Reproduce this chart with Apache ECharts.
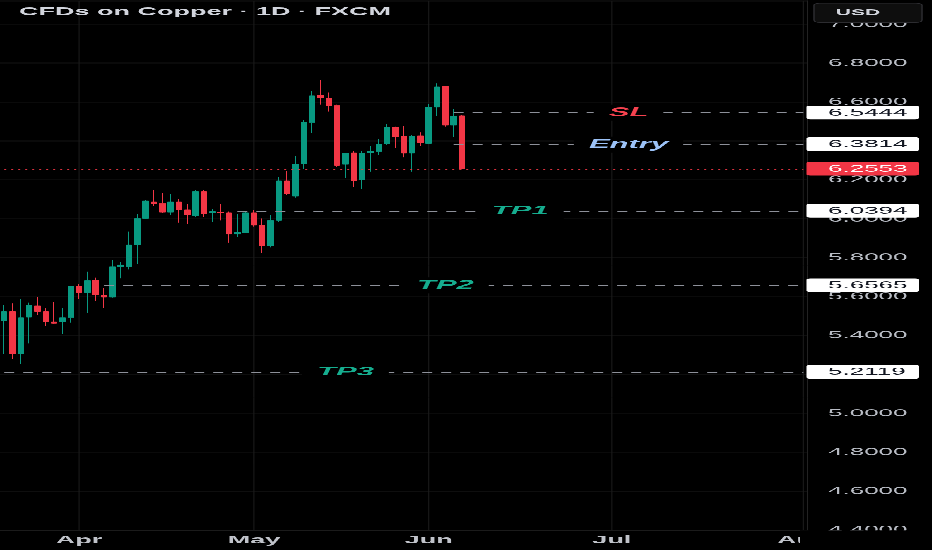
<!DOCTYPE html>
<html>
<head>
<meta charset="utf-8">
<script src="https://cdn.jsdelivr.net/npm/echarts/dist/echarts.min.js"></script>
<style>
html,body{margin:0;padding:0;background:#000;overflow:hidden;width:932px;height:550px}
#wrap{width:932px;height:550px;overflow:hidden;position:relative;background:#000}
#chart{width:932px;height:1402px;transform-origin:0 0}
</style>
</head>
<body>
<div id="wrap"><div id="chart"></div></div>
<script>
// ---- data ----
const opens  = [5.476,5.522,5.305,5.493,5.553,5.522,5.470,5.470,5.491,5.654,
                5.620,5.685,5.608,5.596,5.753,5.753,5.865,6.002,6.087,6.079,
                6.033,6.087,6.045,6.015,6.139,6.028,6.034,6.031,5.921,5.928,
                6.031,5.967,5.860,5.990,6.194,6.116,6.281,6.493,6.634,6.619,
                6.583,6.279,6.339,6.199,6.337,6.344,6.384,6.470,6.425,6.336,
                6.426,6.387,6.572,6.680,6.481,6.529];
const closes = [5.522,5.305,5.491,5.556,5.522,5.470,5.462,5.491,5.654,5.620,
                5.681,5.608,5.596,5.753,5.762,5.865,6.002,6.091,6.075,6.033,
                6.087,6.045,6.019,6.139,6.024,6.036,6.028,5.921,5.930,6.031,
                5.967,5.860,5.990,6.194,6.127,6.279,6.495,6.632,6.620,6.579,
                6.274,6.336,6.194,6.336,6.346,6.384,6.470,6.421,6.336,6.425,
                6.390,6.572,6.678,6.481,6.528,6.2553];
const lows   = [5.305,5.277,5.252,5.359,5.505,5.448,5.459,5.407,5.465,5.587,
                5.517,5.577,5.542,5.594,5.694,5.740,5.767,5.997,6.065,6.028,
                6.019,5.979,5.971,6.010,6.010,5.984,5.990,5.876,5.907,5.925,
                5.959,5.822,5.853,5.984,6.122,6.108,6.255,6.442,6.586,6.550,
                6.267,6.207,6.164,6.152,6.241,6.329,6.380,6.365,6.315,6.241,
                6.372,6.384,6.528,6.473,6.421,6.252];
const highs  = [5.556,5.565,5.587,5.568,5.596,5.539,5.570,5.542,5.656,5.663,
                5.727,5.697,5.642,5.788,5.779,5.933,6.024,6.096,6.147,6.130,
                6.127,6.100,6.074,6.147,6.147,6.048,6.075,6.036,6.024,6.036,
                6.045,6.002,6.019,6.216,6.245,6.322,6.507,6.658,6.713,6.649,
                6.586,6.339,6.346,6.349,6.373,6.408,6.485,6.473,6.476,6.430,
                6.444,6.588,6.696,6.683,6.562,6.533];

const barCount      = 97;                       // trading-day slots shown on the time axis
const monthLabels   = ['Apr','May','Jun','Jul','Aug'];
const monthStartBar = [9, 30, 51, 73, 96];

const levelNames    = ['SL','Entry','TP1','TP2','TP3'];
const levelValues   = [6.5444, 6.3814, 6.0394, 5.6565, 5.2119];
const levelStartBar = [54, 54, 28, 12, 0];
const levelLabelBar = [75, 75, 62, 53, 41];
const levelColors   = ['#f5424f','#9cc2f7','#16ad8f','#16ad8f','#16ad8f'];

const lastPrice = closes[closes.length - 1];
const yTickValues = [4.4,4.6,4.8,5.0,5.2,5.4,5.6,5.8,6.0,6.2,6.4,6.6,6.8,7.0];

// ---- layout (page is drawn tall then squeezed vertically to mimic the reference) ----
const H = 1402, K = H / 550;
const el = document.getElementById('chart');
el.style.height = H + 'px';
el.style.transform = 'scaleY(' + (1 / K) + ')';
const FONT = "'Liberation Sans', Arial, sans-serif";

const categories = Array.from({length: barCount}, (_, i) => String(i));
const candleData = opens.map((o, i) => [o, closes[i], lows[i], highs[i]]);

const levelLines = levelValues.map((v, i) => {
  const ls = {type: [10, 9], color: '#8d9099', width: 1.2 * K, opacity: 1};
  return [
    {coord: [levelStartBar[i], v], lineStyle: ls, label: {show: false}},
    {coord: [barCount - 1, v], lineStyle: ls, label: {show: false}}
  ];
});
const priceLs = {type: [2, 5], color: '#f23645', width: 1.1 * K, opacity: 0.9};
levelLines.push([
  {coord: [0, lastPrice], lineStyle: priceLs, label: {show: false}},
  {coord: [barCount - 1, lastPrice], lineStyle: priceLs, label: {show: false}}
]);

const monthSeries = monthStartBar.map(b => ({
  type: 'line', data: [[b, 4.4], [b, 7.12]], symbol: 'none', silent: true,
  lineStyle: {color: '#1d1d1d', width: 1}, z: 1, animation: false
}));

const baseGraphic = [
  {type: 'text', z: 100, x: 19, y: 12 * K,
   style: {text: 'CFDs on Copper · 1D · FXCM', fill: '#d1d4dc', fontSize: 27, fontFamily: FONT, fontWeight: 'bold',
           textAlign: 'left', textVerticalAlign: 'middle', align: 'left', verticalAlign: 'middle'}},
  {type: 'rect', z: 100, shape: {x: 814, y: 3 * K, width: 108, height: 19.5 * K, r: 6},
   style: {fill: '#0e0e0e', stroke: '#2c2c30', lineWidth: 1.5}},
  {type: 'text', z: 101, x: 858, y: 12.5 * K,
   style: {text: 'USD', fill: '#d1d4dc', fontSize: 21, fontWeight: 'bold', fontFamily: FONT,
           textAlign: 'center', textVerticalAlign: 'middle', align: 'center', verticalAlign: 'middle'}},
  {type: 'rect', z: 100, shape: {x: 800, y: 530.5 * K, width: 132, height: 20 * K},
   style: {fill: '#000'}}
];

const chart = echarts.init(el, null, {renderer: 'canvas'});
chart.setOption({
  backgroundColor: '#000',
  animation: false,
  grid: {left: 0, right: 124.5, top: 0.73 * K, bottom: 20 * K, containLabel: false, outerBoundsMode: 'none'},
  xAxis: {
    type: 'category', data: categories, boundaryGap: true,
    axisLine: {show: true, lineStyle: {color: '#222', width: K}},
    axisTick: {show: false},
    splitLine: {show: false},
    axisLabel: {
      interval: (idx) => monthStartBar.indexOf(idx) >= 0,
      formatter: (val, idx) => { const m = monthStartBar.indexOf(idx); return m >= 0 ? monthLabels[m] : ''; },
      color: '#c0c3ca', fontSize: 27, fontWeight: 'bold', fontFamily: FONT, margin: 27, verticalAlign: 'middle',
      hideOverlap: false
    }
  },
  yAxis: {
    type: 'value', position: 'right', min: 4.4, max: 7.12, interval: 0.2, scale: true,
    axisLine: {show: true, lineStyle: {color: '#222', width: 1}},
    axisTick: {show: false},
    splitLine: {show: true, lineStyle: {color: '#0e0e0e', width: K}},
    axisLabel: {
      color: '#b8bcc4', fontSize: 26, fontFamily: FONT, margin: 20.5,
      showMaxLabel: false, showMinLabel: true, hideOverlap: false,
      formatter: (v) => yTickValues.some(t => Math.abs(t - v) < 1e-6) ? v.toFixed(4) : ''
    }
  },
  series: [
    ...monthSeries,
    {
      type: 'candlestick', data: candleData, barWidth: 6, z: 3,
      itemStyle: {color: '#089981', color0: '#f23645', borderColor: '#089981', borderColor0: '#f23645', borderWidth: 1},
      markLine: {silent: true, symbol: ['none', 'none'], animation: false, data: levelLines}
    },
    {
      type: 'scatter', zlevel: 2, z: 10, symbolSize: 0, silent: true,
      emphasis: {disabled: true},
      data: levelLabelBar.map((b, i) => ({
        value: [b, levelValues[i]],
        label: {
          show: true, position: 'inside', formatter: levelNames[i], color: levelColors[i],
          fontSize: 31, fontWeight: 'bold', fontStyle: 'italic', fontFamily: FONT,
          backgroundColor: '#000', padding: [5, 15], opacity: 1
        }
      }))
    }
  ],
  graphic: baseGraphic
});

// price tags on the right scale, placed through the y axis of the chart
const tagValues = levelValues.concat([lastPrice]);
const tagGraphic = tagValues.map((v, i) => {
  const y = chart.convertToPixel({yAxisIndex: 0}, v);
  const isLast = i === tagValues.length - 1;
  const h = 13.8 * K;
  return {
    type: 'group', z: 110,
    children: [
      {type: 'rect', z: 110, shape: {x: 806.5, y: y - h / 2 - 0.3 * K, width: 112.5, height: h, r: 4},
       style: {fill: isLast ? '#f23645' : '#ffffff'}},
      {type: 'text', z: 111, x: 828, y: y,
       style: {text: v.toFixed(4), fill: isLast ? '#ffffff' : '#131722', fontSize: 26, fontFamily: FONT,
               textAlign: 'left', textVerticalAlign: 'middle', align: 'left', verticalAlign: 'middle'}}
    ]
  };
});
chart.setOption({graphic: baseGraphic.concat(tagGraphic)});
</script>
</body>
</html>
